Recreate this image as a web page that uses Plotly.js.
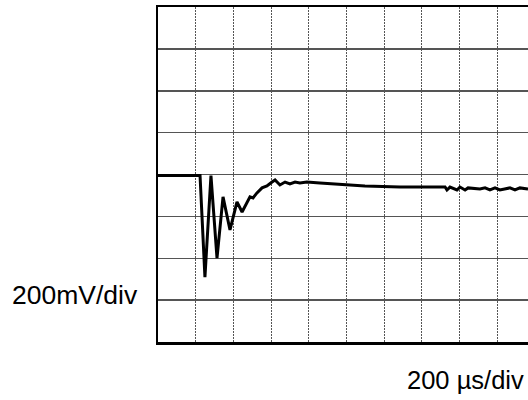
<!DOCTYPE html>
<html>
<head>
<meta charset="utf-8">
<script src="https://cdn.plot.ly/plotly-3.0.1.min.js"></script>
<style>html,body{margin:0;padding:0;overflow:hidden;background:#fff;}#chart{width:528px;height:400px;}</style>
</head>
<body>
<div id="chart"></div>
<script>
// time in microseconds (200 µs/div), voltage in mV (200 mV/div)
const timeUs = [0, 223, 249, 281, 313, 345, 382, 419, 446, 472, 488, 504, 525, 552, 578, 605, 621, 647, 674, 700, 727, 753, 790, 859, 939, 1019, 1098, 1284, 1523, 1533, 1549, 1586, 1602, 1629, 1645, 1708, 1735, 1761, 1788, 1814, 1867, 1894, 1920, 1963];
const voltageMv = [-5, -5, -490, -5, -399, -107, -265, -131, -179, -131, -107, -112, -88, -64, -55, -36, -26, -50, -36, -45, -36, -41, -36, -41, -45, -50, -55, -60, -60, -74, -60, -74, -60, -74, -64, -69, -64, -74, -64, -74, -64, -74, -64, -69];
const yLabel = "200mV/div";
const xLabel = "200 µs/div";

const trace = {
  x: timeUs, y: voltageMv, type: 'scatter', mode: 'lines',
  line: {color: '#000', width: 3, shape: 'linear'},
  hoverinfo: 'skip'
};

const layout = {
  width: 528, height: 400,
  margin: {l: 158, r: 0, t: 7, b: 58, pad: 0},
  paper_bgcolor: '#fff', plot_bgcolor: '#fff',
  showlegend: false,
  font: {family: 'Liberation Sans, Arial, sans-serif', color: '#000'},
  xaxis: {
    range: [0, 1963], dtick: 200, tick0: 0,
    showgrid: true, gridcolor: '#555', gridwidth: 1, griddash: '2px,1px',
    showline: true, linecolor: '#000', linewidth: 2.5, mirror: true,
    zeroline: false, showticklabels: false, ticks: '', fixedrange: true
  },
  yaxis: {
    range: [-800, 800], dtick: 200, tick0: 0,
    showgrid: true, gridcolor: '#555', gridwidth: 1.5,
    showline: true, linecolor: '#000', linewidth: 2.5, mirror: false,
    zeroline: false, showticklabels: false, ticks: '', fixedrange: true
  },
  annotations: [
    {text: yLabel, xref: 'paper', yref: 'paper', x: -0.4, y: 0.14, xanchor: 'left', yanchor: 'middle', showarrow: false, font: {size: 26.5, color: '#000'}},
    {text: xLabel, xref: 'paper', yref: 'paper', x: 0.994, y: -0.113, xanchor: 'right', yanchor: 'middle', showarrow: false, font: {size: 25.5, color: '#000'}}
  ]
};

Plotly.newPlot('chart', [trace], layout, {staticPlot: true, displayModeBar: false});
</script>
</body>
</html>
